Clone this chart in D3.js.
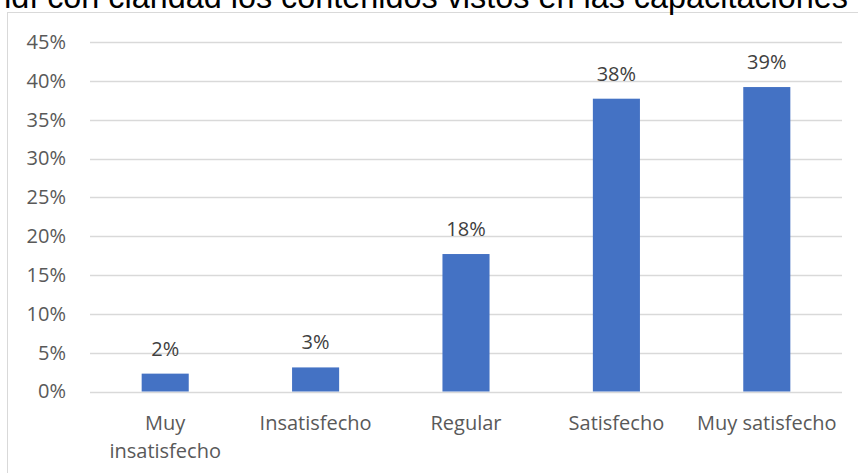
<!DOCTYPE html>
<html>
<head>
<meta charset="utf-8">
<script src="https://cdn.jsdelivr.net/npm/d3@7"></script>
<style>
  body { margin: 0; background: #fff; }
  svg { display: block; }
</style>
</head>
<body>
<svg width="858" height="473"></svg>
<script>
var categories = ['Muy insatisfecho', 'Insatisfecho', 'Regular', 'Satisfecho', 'Muy satisfecho'];
var values = [0.023, 0.031, 0.177, 0.377, 0.392];
var yTicks = [0, 0.05, 0.1, 0.15, 0.2, 0.25, 0.3, 0.35, 0.4, 0.45];
var title = 'Aprendí con claridad los contenidos vistos en las capacitaciones';

var svg = d3.select('svg');
var font = '"Open Sans", Lato, sans-serif';
var fontSize = 20;

// chart area border (runs off the right and bottom edges)
svg.append('rect')
  .attr('x', 7.5).attr('y', 12.5)
  .attr('width', 900).attr('height', 500)
  .attr('fill', 'none')
  .attr('stroke', '#d9d9d9');

// title is wider than the picture, only its tail shows
var titleText = svg.append('text')
  .attr('x', 848).attr('y', 7.5)
  .attr('text-anchor', 'end')
  .attr('font-family', '"Liberation Sans", Arial, sans-serif')
  .attr('font-size', 24)
  .attr('fill', '#000')
  .text(title);
// size it so that "Apre" falls just off the left edge
var full = titleText.node().getComputedTextLength();
var pre = titleText.node().getSubStringLength(0, 4);
titleText.attr('font-size', 24 * 855 / (full - pre));

var x = d3.scaleBand().domain(categories).range([90, 842]).paddingInner(0.687).paddingOuter(0.3435);
var y = d3.scaleLinear().domain([0, 0.45]).range([391.5, 42]);

// gridlines
svg.append('g')
  .selectAll('line')
  .data(yTicks)
  .enter()
  .append('line')
  .attr('x1', 90).attr('x2', 842)
  .attr('y1', function(d) { return Math.round(y(d)) + 0.5; })
  .attr('y2', function(d) { return Math.round(y(d)) + 0.5; })
  .attr('stroke', '#d9d9d9')
  .attr('stroke-width', 1.3);

// y axis labels
var yAxis = d3.axisLeft(y).tickValues(yTicks).tickSize(0).tickPadding(0).tickFormat(d3.format('.0%'));
svg.append('g')
  .attr('transform', 'translate(66,0)')
  .call(yAxis)
  .call(function(g) {
    g.select('.domain').remove();
    g.selectAll('text')
      .attr('font-family', font)
      .attr('font-size', fontSize)
      .attr('fill', '#595959');
  });

// bars
svg.append('g')
  .selectAll('rect')
  .data(values)
  .enter()
  .append('rect')
  .attr('x', function(d, i) { return x(categories[i]); })
  .attr('y', function(d) { return y(d); })
  .attr('width', x.bandwidth())
  .attr('height', function(d) { return y(0) - y(d); })
  .attr('fill', '#4472c4');

// data labels
svg.append('g')
  .selectAll('text')
  .data(values)
  .enter()
  .append('text')
  .attr('x', function(d, i) { return x(categories[i]) + x.bandwidth() / 2; })
  .attr('y', function(d) { return y(d) - 18; })
  .attr('text-anchor', 'middle')
  .attr('font-family', font)
  .attr('font-size', fontSize)
  .attr('fill', '#404040')
  .text(function(d) { return Math.round(d * 100) + '%'; });

// category labels, wrapped like the original
var xLabels = [['Muy', 'insatisfecho'], ['Insatisfecho'], ['Regular'], ['Satisfecho'], ['Muy satisfecho']];
var xl = svg.append('g')
  .selectAll('text')
  .data(categories)
  .enter()
  .append('text')
  .attr('text-anchor', 'middle')
  .attr('font-family', font)
  .attr('font-size', fontSize)
  .attr('fill', '#595959');
xl.each(function(d, i) {
  var t = d3.select(this);
  xLabels[i].forEach(function(line, j) {
    t.append('tspan')
      .attr('x', x(d) + x.bandwidth() / 2)
      .attr('y', 430 + j * 28)
      .text(line);
  });
});
</script>
</body>
</html>
